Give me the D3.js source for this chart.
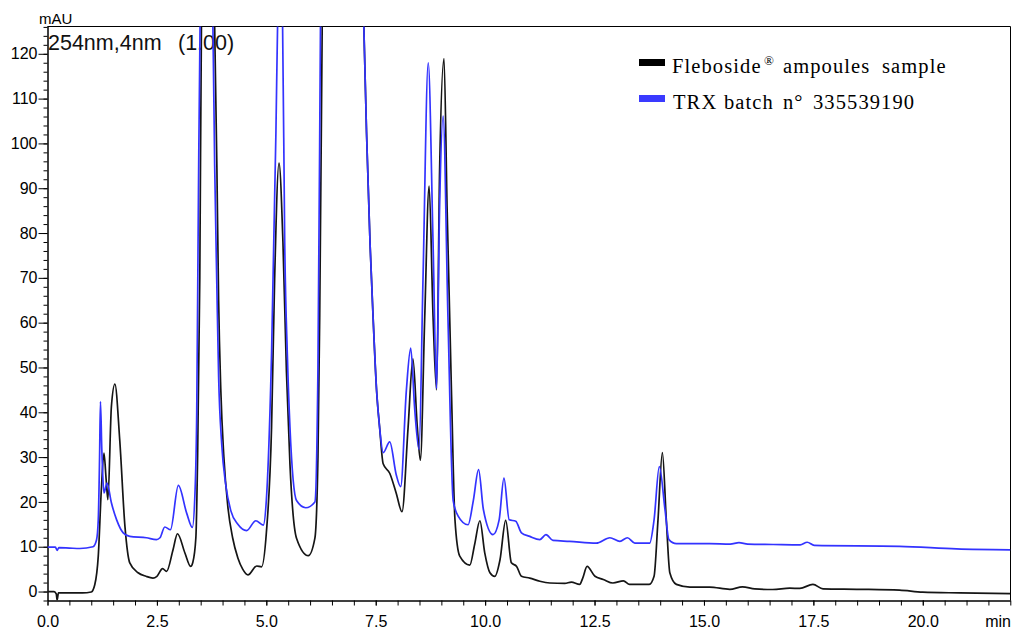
<!DOCTYPE html>
<html>
<head>
<meta charset="utf-8">
<script src="https://cdn.jsdelivr.net/npm/d3@7"></script>
<style>
  body { margin: 0; background: #fff; }
  svg { display: block; }
</style>
</head>
<body>
<svg id="chart" width="1014" height="629"></svg>
<script>
// Chromatogram at 254 nm: retention time (min) vs absorbance (mAU)

// Fleboside ampoules sample: [time, mAU]
const flebosideSample = [
  [0.00, 0.0], [0.15, 0.0], [0.20, -0.5], [0.22, -1.9], [0.25, -0.3], [0.50, -0.3], [0.80, -0.3],
  [1.00, -0.1], [1.08, 1.5], [1.16, 7.9], [1.23, 22.7], [1.29, 30.9], [1.34, 25.0], [1.38, 20.5],
  [1.46, 41.3], [1.54, 46.3], [1.65, 33.9], [1.77, 14.5], [1.88, 6.4], [2.07, 4.2], [2.25, 3.4],
  [2.41, 3.0], [2.50, 3.4], [2.63, 5.1], [2.72, 4.5], [2.87, 9.4], [2.97, 12.9], [3.14, 8.6],
  [3.27, 5.6], [3.32, 6.5], [3.39, 12.0], [3.43, 30.0], [3.48, 70.0], [3.52, 130.0], [3.68, 190.0],
  [3.82, 126.0], [3.87, 95.0], [3.91, 65.0], [3.96, 45.0], [4.03, 30.0], [4.12, 19.0], [4.23, 12.0],
  [4.35, 7.5], [4.46, 5.0], [4.58, 3.7], [4.78, 5.7], [4.89, 5.5], [5.00, 13.0], [5.12, 36.7],
  [5.19, 69.7], [5.29, 95.6], [5.38, 77.9], [5.46, 49.0], [5.54, 28.4], [5.69, 11.9], [5.96, 8.0],
  [6.11, 11.9], [6.18, 30.0], [6.22, 61.5], [6.28, 130.0], [6.70, 600.0], [7.23, 125.5],
  [7.29, 102.4], [7.37, 77.7], [7.44, 61.2], [7.52, 44.8], [7.59, 36.5], [7.67, 28.5], [7.82, 26.4],
  [7.97, 21.9], [8.10, 17.8], [8.24, 36.7], [8.35, 51.9], [8.45, 36.7], [8.52, 29.3], [8.62, 61.3],
  [8.72, 90.5], [8.81, 61.3], [8.89, 45.0], [8.96, 94.2], [9.06, 118.9], [9.13, 86.0], [9.23, 44.9],
  [9.31, 16.1], [9.42, 7.9], [9.65, 5.9], [9.76, 10.5], [9.88, 15.8], [9.99, 8.7], [10.11, 4.2],
  [10.22, 3.4], [10.34, 7.1], [10.47, 15.9], [10.60, 6.4], [10.72, 5.6], [10.83, 3.4], [11.02, 3.0],
  [11.25, 2.3], [11.48, 1.9], [11.82, 1.8], [11.97, 2.1], [12.16, 1.6], [12.23, 3.0], [12.33, 5.6],
  [12.51, 3.4], [12.70, 2.7], [12.92, 1.9], [13.16, 2.4], [13.30, 1.6], [13.75, 1.6], [13.86, 3.4],
  [13.95, 16.0], [14.05, 31.0], [14.14, 16.0], [14.22, 4.2], [14.37, 1.6], [14.68, 1.0], [15.13, 1.0],
  [15.59, 0.5], [15.88, 1.05], [16.16, 0.6], [16.57, 0.45], [16.96, 0.75], [17.19, 0.7], [17.49, 1.6],
  [17.72, 0.6], [18.56, 0.5], [19.47, 0.3], [20.00, -0.15], [20.84, -0.3], [22.00, -0.45]
];

// TRX batch n° 335539190: [time, mAU]
const trxBatch = [
  [0.00, 9.9], [0.18, 9.9], [0.22, 9.2], [0.26, 9.8], [0.50, 9.7], [0.74, 9.6], [1.04, 10.0],
  [1.12, 11.5], [1.16, 16.0], [1.19, 30.0], [1.21, 42.4], [1.24, 32.0], [1.26, 26.5], [1.29, 22.0],
  [1.36, 24.2], [1.46, 19.8], [1.58, 16.0], [1.73, 13.1], [1.88, 12.3], [2.26, 12.0], [2.49, 11.6],
  [2.57, 12.0], [2.68, 14.4], [2.81, 13.8], [2.99, 23.7], [3.18, 17.5], [3.31, 14.3], [3.37, 22.0],
  [3.41, 40.0], [3.45, 90.0], [3.49, 130.0], [3.63, 170.0], [3.78, 126.0], [3.82, 95.0], [3.87, 68.0],
  [3.91, 48.0], [3.98, 33.0], [4.07, 24.0], [4.19, 18.0], [4.35, 15.0], [4.55, 13.6], [4.76, 15.8],
  [4.93, 14.8], [5.00, 20.3], [5.12, 53.2], [5.22, 102.7], [5.26, 128.0], [5.31, 140.0], [5.37, 128.0],
  [5.42, 78.0], [5.48, 53.0], [5.54, 36.7], [5.69, 20.3], [5.90, 18.7], [6.11, 20.0], [6.18, 50.0],
  [6.24, 130.0], [6.70, 600.0], [7.23, 125.5], [7.29, 102.4], [7.37, 77.7], [7.44, 61.2], [7.52, 44.8],
  [7.59, 36.5], [7.67, 31.0], [7.82, 33.4], [7.97, 26.0], [8.07, 23.4], [8.20, 44.9], [8.30, 54.3],
  [8.39, 40.8], [8.49, 31.7], [8.58, 69.6], [8.70, 118.0], [8.81, 77.8], [8.89, 45.3], [8.96, 86.0],
  [9.04, 106.1], [9.15, 61.3], [9.27, 20.3], [9.38, 16.9], [9.61, 14.9], [9.73, 20.3], [9.85, 27.2],
  [9.96, 18.3], [10.18, 12.7], [10.32, 16.0], [10.43, 25.3], [10.55, 16.0], [10.70, 15.7], [10.83, 13.1],
  [11.02, 12.3], [11.25, 11.6], [11.39, 12.7], [11.55, 11.4], [11.93, 11.2], [12.54, 10.8], [12.85, 12.0],
  [13.08, 11.2], [13.25, 12.0], [13.42, 10.8], [13.76, 10.8], [13.86, 16.0], [13.98, 27.9], [14.11, 18.3],
  [14.20, 11.6], [14.37, 10.7], [15.13, 10.7], [15.60, 10.6], [15.80, 10.9], [16.00, 10.6], [16.58, 10.5],
  [17.20, 10.4], [17.36, 11.0], [17.52, 10.3], [19.47, 10.1], [20.77, 9.5], [22.00, 9.3]
];

const seriesLabels = ["Fleboside", "TRX batch n° 335539190"];
const seriesColors = ["#151515", "#3333ff"];

const xMajorTicks = [0, 2.5, 5, 7.5, 10, 12.5, 15, 17.5, 20];
const xMinorTicks = d3.range(0, 22.01, 0.5);
const yMajorTicks = [0, 10, 20, 30, 40, 50, 60, 70, 80, 90, 100, 110, 120];
const yMinorTicks = d3.range(-2, 126.1, 2);

const svg = d3.select("#chart");
const font = "'Liberation Sans', Arial, sans-serif";
const serif = "'Liberation Serif', 'Times New Roman', serif";

const x = d3.scaleLinear().domain([0, 22]).range([47.5, 1010.3]);
const y = d3.scaleLinear().domain([-2, 126.2]).range([600.5, 26.0]);

const plotLeft = 47.5, plotRight = 1010.5, plotTop = 26.5, plotBottom = 600.5;

svg.append("defs").append("clipPath").attr("id", "plot-clip")
  .append("rect")
  .attr("x", plotLeft).attr("y", plotTop)
  .attr("width", plotRight - plotLeft).attr("height", plotBottom - plotTop);

// Frame: top and right edges
svg.append("path")
  .attr("d", `M${plotLeft},${plotTop}H${plotRight}V${plotBottom}`)
  .attr("fill", "none").attr("stroke", "#000").attr("stroke-width", 1);

// Y axis: minor and major ticks
const yMinorAxis = d3.axisLeft(y).tickValues(yMinorTicks).tickSize(4).tickSizeOuter(0).tickFormat("");
const yMajorAxis = d3.axisLeft(y).tickValues(yMajorTicks).tickSize(9).tickSizeOuter(0).tickPadding(1)
  .tickFormat(d3.format("d"));

svg.append("g").attr("transform", `translate(${plotLeft},0)`).call(yMinorAxis);
const gy = svg.append("g").attr("transform", `translate(${plotLeft},0)`).call(yMajorAxis);
gy.selectAll("text").attr("font-family", font).attr("font-size", 16).attr("fill", "#000");

// X axis: minor and major ticks share one length
const xMinorAxis = d3.axisBottom(x).tickValues(xMinorTicks).tickSize(5).tickSizeOuter(0).tickFormat("");
const xMajorAxis = d3.axisBottom(x).tickValues(xMajorTicks).tickSize(5).tickSizeOuter(0).tickPadding(10)
  .tickFormat(d3.format(".1f"));

svg.append("g").attr("transform", `translate(0,${plotBottom})`).call(xMinorAxis);
const gx = svg.append("g").attr("transform", `translate(0,${plotBottom})`).call(xMajorAxis);
gx.selectAll("text").attr("font-family", font).attr("font-size", 16).attr("fill", "#000");

svg.selectAll(".domain").attr("stroke", "#000");
svg.selectAll(".tick line").attr("stroke", "#000");

// Axis unit labels
svg.append("text").attr("x", 39).attr("y", 24)
  .attr("font-family", font).attr("font-size", 15).attr("fill", "#000").text("mAU");
svg.append("text").attr("x", 1011).attr("y", 627).attr("text-anchor", "end")
  .attr("font-family", font).attr("font-size", 16).attr("fill", "#000").text("min");

// Detector channel caption
svg.append("text").attr("x", 48).attr("y", 50)
  .attr("font-family", font).attr("font-size", 21.5).attr("fill", "#111").text("254nm,4nm");
svg.append("text").attr("x", 178).attr("y", 50)
  .attr("font-family", font).attr("font-size", 21.5).attr("fill", "#111").text("(1.00)");

// Traces
const line = d3.line()
  .x(d => x(d[0]))
  .y(d => y(d[1]))
  .curve(d3.curveMonotoneX);

const traces = svg.append("g").attr("clip-path", "url(#plot-clip)");
[flebosideSample, trxBatch].forEach((data, i) => {
  traces.append("path")
    .datum(data)
    .attr("fill", "none")
    .attr("stroke", seriesColors[i])
    .attr("stroke-width", 1.7)
    .attr("stroke-linejoin", "round")
    .attr("d", line);
});

// Legend
const legendRows = [
  { y: 59, words: [[672, seriesLabels[0]], [783, "ampoules"], [882, "sample"]], sup: [764, "®"], base: 73 },
  { y: 95, words: [[673, "TRX"], [724, "batch"], [783, "n°"], [813, "335539190"]], base: 109 }
];
legendRows.forEach((row, i) => {
  svg.append("rect").attr("x", 639).attr("y", row.y).attr("width", 26).attr("height", 7)
    .attr("fill", i === 0 ? "#000" : "#3a3aff");
  const t = svg.append("text").attr("y", row.base)
    .attr("font-family", serif).attr("font-size", 20.5).attr("letter-spacing", 1.1).attr("fill", "#000");
  row.words.forEach(([wx, w]) => t.append("tspan").attr("x", wx).attr("y", row.base).text(w));
  if (row.sup) {
    svg.append("text").attr("x", row.sup[0]).attr("y", row.base - 8)
      .attr("font-family", serif).attr("font-size", 13).attr("fill", "#000").text(row.sup[1]);
  }
});
</script>
</body>
</html>
